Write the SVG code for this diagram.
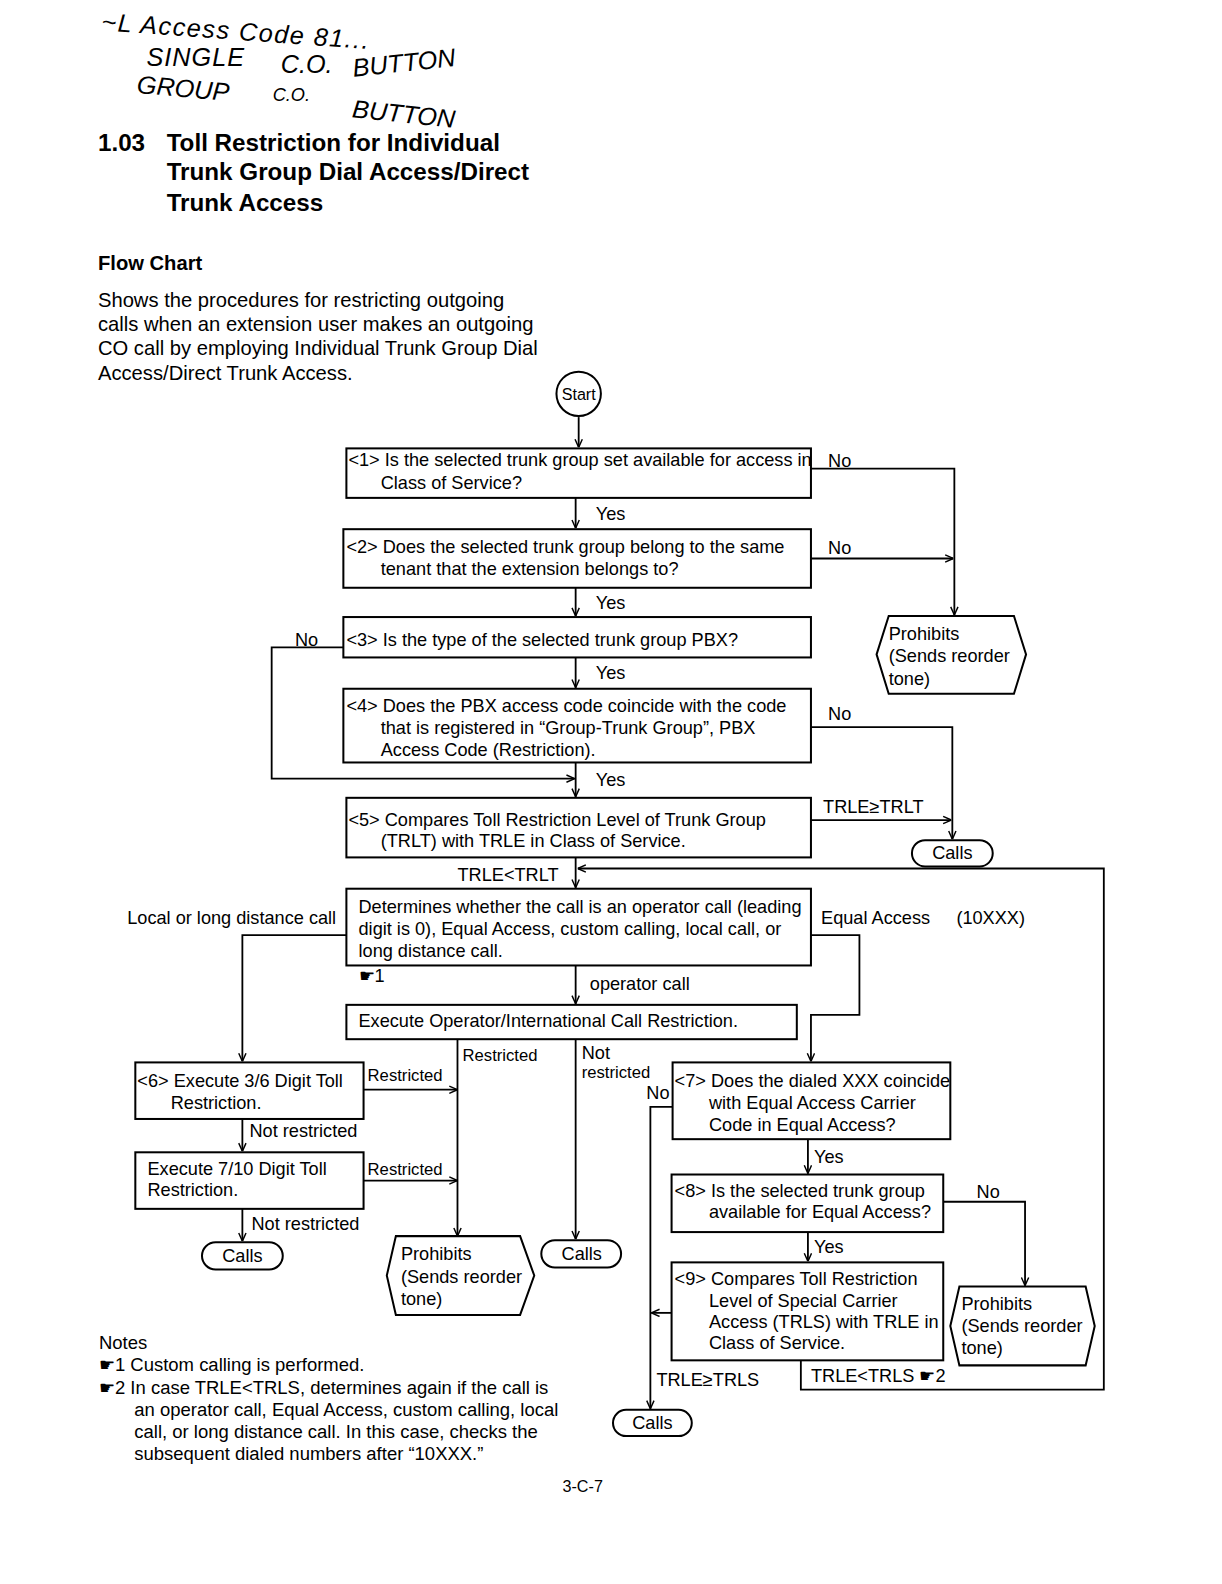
<svg xmlns="http://www.w3.org/2000/svg" width="1222" height="1584" viewBox="0 0 1222 1584">
<defs>
<style>
.bx{fill:#fff;stroke:#000;stroke-width:2}
.t{font-family:"Liberation Sans",Arial,sans-serif;font-size:18px;fill:#000}
.r{font-size:16.5px}
.p{font-family:"Liberation Sans",Arial,sans-serif;font-size:20px;fill:#000}
.n{font-family:"Liberation Sans",Arial,sans-serif;font-size:18.3px;fill:#000}
.h{font-family:"Liberation Sans",Arial,sans-serif;font-size:24px;font-weight:bold;fill:#000}
.hw{font-family:"Liberation Sans",Arial,sans-serif;font-size:25px;font-style:italic;fill:#000}
.c{stroke:#000;stroke-width:1.8;fill:none}
.a{marker-end:url(#ah)}
</style>
<marker id="ah" viewBox="0 0 10 10" refX="10" refY="5" markerWidth="9" markerHeight="9" orient="auto" markerUnits="userSpaceOnUse"><path d="M1,1 L10,5 L1,9" fill="none" stroke="#000" stroke-width="1.6"/></marker>
</defs>
<rect width="1222" height="1584" fill="#fff"/>
<g transform="scale(1.0099)">
<g id="handwriting">
<text class="hw" x="100" y="30" letter-spacing="1.5" transform="rotate(4 100 30)">~L Access Code 81...</text>
<text class="hw" x="145" y="65" letter-spacing="1">SINGLE</text>
<text class="hw" x="278" y="72">C.O.</text>
<text class="hw" x="350" y="76" transform="rotate(-6 350 76)">BUTTON</text>
<text class="hw" x="135" y="92" transform="rotate(5 135 92)">GROUP</text>
<text class="hw" x="270" y="100" style="font-size:18px">C.O.</text>
<text class="hw" x="348" y="116" transform="rotate(6 348 116)">BUTTON</text>
</g>
<g id="title">
<text class="h" x="97" y="150">1.03</text>
<text class="h" x="165" y="150">Toll Restriction for Individual</text>
<text class="h" x="165" y="178">Trunk Group Dial Access/Direct</text>
<text class="h" x="165" y="209">Trunk Access</text>
<text class="h" x="97" y="267" style="font-size:20px">Flow Chart</text>
<text class="p" x="97" y="304">Shows the procedures for restricting outgoing</text>
<text class="p" x="97" y="328">calls when an extension user makes an outgoing</text>
<text class="p" x="97" y="352">CO call by employing Individual Trunk Group Dial</text>
<text class="p" x="97" y="376">Access/Direct Trunk Access.</text>
</g>
<g id="connectors">
<path class="c a" d="M573,413 V443"/>
<path class="c a" d="M803,464 H945 V609"/>
<path class="c a" d="M570,493 V523"/>
<path class="c a" d="M803,553 H944"/>
<path class="c a" d="M570,582 V610"/>
<path class="c a" d="M340,641 H269 V771 H569"/>
<path class="c a" d="M570,651 V681"/>
<path class="c a" d="M803,720 H943 V831"/>
<path class="c a" d="M570,755 V789"/>
<path class="c a" d="M803,812 H942"/>
<path class="c a" d="M570,849 V879"/>
<path class="c a" d="M793,1347 V1376 H1093 V860 H572"/>
<path class="c a" d="M343,926 H240 V1051"/>
<path class="c a" d="M803,926 H851 V1005 H803 V1051"/>
<path class="c a" d="M570,956 V994"/>
<path class="c a" d="M453,1029 V1224"/>
<path class="c a" d="M570,1029 V1227"/>
<path class="c a" d="M360,1079 H453"/>
<path class="c a" d="M240,1108 V1140"/>
<path class="c a" d="M360,1169 H453"/>
<path class="c a" d="M240,1197 V1229"/>
<path class="c a" d="M666,1096 H644 V1395"/>
<path class="c a" d="M800,1128 V1162"/>
<path class="c a" d="M934,1190 H1015 V1273"/>
<path class="c a" d="M800,1220 V1249"/>
<path class="c a" d="M665,1300 H645"/>
<text class="t" x="820" y="462">No</text>
<text class="t" x="590" y="515">Yes</text>
<text class="t" x="820" y="549">No</text>
<text class="t" x="590" y="603">Yes</text>
<text class="t" x="292" y="640">No</text>
<text class="t" x="590" y="672">Yes</text>
<text class="t" x="820" y="713">No</text>
<text class="t" x="590" y="778">Yes</text>
<text class="t" x="815" y="805">TRLE≥TRLT</text>
<text class="t" x="453" y="872">TRLE&lt;TRLT</text>
<text class="t" x="126" y="915">Local or long distance call</text>
<text class="t" x="813" y="915">Equal Access</text>
<text class="t" x="947" y="915">(10XXX)</text>
<text class="t" x="355" y="972">☛1</text>
<text class="t" x="584" y="980">operator call</text>
<text class="t r" x="458" y="1051">Restricted</text>
<text class="t" x="576" y="1049">Not</text>
<text class="t r" x="576" y="1067">restricted</text>
<text class="t r" x="364" y="1070">Restricted</text>
<text class="t" x="247" y="1126">Not restricted</text>
<text class="t r" x="364" y="1163">Restricted</text>
<text class="t" x="249" y="1218">Not restricted</text>
<text class="t" x="640" y="1088">No</text>
<text class="t" x="806" y="1152">Yes</text>
<text class="t" x="967" y="1186">No</text>
<text class="t" x="806" y="1241">Yes</text>
<text class="t" x="650" y="1372">TRLE≥TRLS</text>
<text class="t" x="803" y="1368">TRLE&lt;TRLS ☛2</text>
</g>
<g id="start"><circle class="bx" cx="573" cy="390" r="22"/><text class="t" x="573" y="396" text-anchor="middle" style="font-size:16px">Start</text></g>
<g id="n1"><rect class="bx" x="343" y="444" width="460" height="49"/>
<text class="t" x="345" y="461">&lt;1&gt; Is the selected trunk group set available for access in</text>
<text class="t" x="377" y="484">Class of Service?</text></g>
<g id="n2"><rect class="bx" x="340" y="524" width="463" height="58"/>
<text class="t" x="343" y="548">&lt;2&gt; Does the selected trunk group belong to the same</text>
<text class="t" x="377" y="569">tenant that the extension belongs to?</text></g>
<g id="n3"><rect class="bx" x="340" y="611" width="463" height="40"/>
<text class="t" x="343" y="640">&lt;3&gt; Is the type of the selected trunk group PBX?</text></g>
<g id="n4"><rect class="bx" x="340" y="682" width="463" height="73"/>
<text class="t" x="343" y="705">&lt;4&gt; Does the PBX access code coincide with the code</text>
<text class="t" x="377" y="727">that is registered in “Group-Trunk Group”, PBX</text>
<text class="t" x="377" y="749">Access Code (Restriction).</text></g>
<g id="n5"><rect class="bx" x="343" y="790" width="460" height="59"/>
<text class="t" x="345" y="818">&lt;5&gt; Compares Toll Restriction Level of Trunk Group</text>
<text class="t" x="377" y="839">(TRLT) with TRLE in Class of Service.</text></g>
<g id="prohibit1"><path class="bx" d="M868,648 L880,610 H1004 L1016,648 L1004,687 H880 Z"/>
<text class="t" x="880" y="634">Prohibits</text>
<text class="t" x="880" y="656">(Sends reorder</text>
<text class="t" x="880" y="678">tone)</text></g>
<g id="calls1"><rect class="bx" x="903" y="832" width="80" height="26" rx="13"/><text class="t" x="943" y="851" text-anchor="middle">Calls</text></g>
<g id="determine"><rect class="bx" x="343" y="880" width="460" height="76"/>
<text class="t" x="355" y="904">Determines whether the call is an operator call (leading</text>
<text class="t" x="355" y="926">digit is 0), Equal Access, custom calling,  local call, or</text>
<text class="t" x="355" y="948">long distance call.</text></g>
<g id="operator"><rect class="bx" x="343" y="995" width="446" height="34"/>
<text class="t" x="355" y="1017">Execute Operator/International Call Restriction.</text></g>
<g id="n6"><rect class="bx" x="134" y="1052" width="226" height="56"/>
<text class="t" x="136" y="1076">&lt;6&gt; Execute 3/6 Digit Toll</text>
<text class="t" x="169" y="1098">Restriction.</text></g>
<g id="n710"><rect class="bx" x="134" y="1141" width="226" height="56"/>
<text class="t" x="146" y="1163">Execute 7/10 Digit Toll</text>
<text class="t" x="146" y="1184">Restriction.</text></g>
<g id="calls2"><rect class="bx" x="200" y="1230" width="80" height="27" rx="13.5"/><text class="t" x="240" y="1250" text-anchor="middle">Calls</text></g>
<g id="prohibit2"><path class="bx" d="M383,1263 L392,1224 H515 L529,1263 L515,1302 H392 Z"/>
<text class="t" x="397" y="1248">Prohibits</text>
<text class="t" x="397" y="1270">(Sends reorder</text>
<text class="t" x="397" y="1292">tone)</text></g>
<g id="calls3"><rect class="bx" x="536" y="1228" width="79" height="27" rx="13.5"/><text class="t" x="576" y="1248" text-anchor="middle">Calls</text></g>
<g id="n7"><rect class="bx" x="666" y="1052" width="275" height="76"/>
<text class="t" x="668" y="1076">&lt;7&gt; Does the dialed XXX coincide</text>
<text class="t" x="702" y="1098">with Equal Access Carrier</text>
<text class="t" x="702" y="1120">Code in Equal Access?</text></g>
<g id="n8"><rect class="bx" x="665" y="1163" width="269" height="57"/>
<text class="t" x="668" y="1185">&lt;8&gt; Is the selected trunk group</text>
<text class="t" x="702" y="1206">available for Equal Access?</text></g>
<g id="n9"><rect class="bx" x="665" y="1250" width="269" height="97"/>
<text class="t" x="668" y="1272">&lt;9&gt; Compares Toll Restriction</text>
<text class="t" x="702" y="1294">Level of Special Carrier</text>
<text class="t" x="702" y="1315">Access (TRLS) with TRLE in</text>
<text class="t" x="702" y="1336">Class of Service.</text></g>
<g id="prohibit3"><path class="bx" d="M941,1313 L950,1274 H1075 L1084,1313 L1075,1352 H950 Z"/>
<text class="t" x="952" y="1297">Prohibits</text>
<text class="t" x="952" y="1319">(Sends reorder</text>
<text class="t" x="952" y="1341">tone)</text></g>
<g id="calls4"><rect class="bx" x="607" y="1396" width="78" height="26" rx="13"/><text class="t" x="646" y="1415" text-anchor="middle">Calls</text></g>
<g id="notes">
<text class="n" x="98" y="1336">Notes</text>
<text class="n" x="98" y="1358">☛1 Custom calling is performed.</text>
<text class="n" x="98" y="1380">☛2 In case TRLE&lt;TRLS, determines again if the call is</text>
<text class="n" x="133" y="1402">an operator call, Equal Access, custom calling,  local</text>
<text class="n" x="133" y="1424">call, or  long distance call.  In this case, checks the</text>
<text class="n" x="133" y="1446">subsequent dialed numbers after “10XXX.”</text>
<text class="n" x="557" y="1477" style="font-size:16px">3-C-7</text>
</g>
</g>
</svg>
